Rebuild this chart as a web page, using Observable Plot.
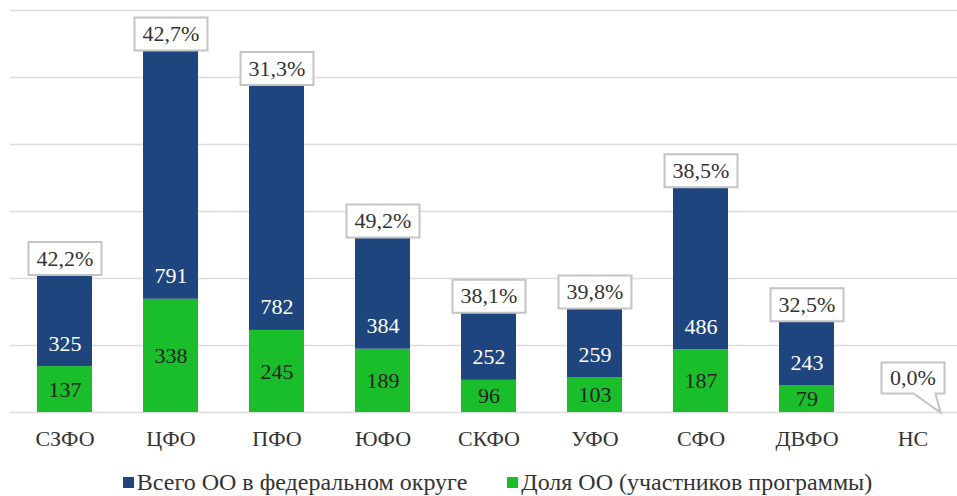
<!DOCTYPE html>
<html>
<head>
<meta charset="utf-8">
<script src="https://cdn.jsdelivr.net/npm/d3@7"></script>
<script src="https://cdn.jsdelivr.net/npm/@observablehq/plot@0.6"></script>
<style>
  html, body { margin: 0; padding: 0; background: #fff; font-family: 'Liberation Serif', serif; }
  #chart { width: 957px; }
  #chart svg, #chart svg text { font-family: 'Liberation Serif', serif !important; }
  .legend { display: flex; justify-content: center; align-items: center; height: 32px; line-height: 28px;
    font-family: 'Liberation Serif', serif; font-size: 24px; color: #333; padding-left: 38px; }
  .legend .item { display: flex; align-items: center; margin: 0 20px; }
  .legend .sw { width: 11px; height: 11px; margin-right: 3px; display: inline-block; }
</style>
</head>
<body>
<div id="chart"></div>
<script>
const categories = ["СЗФО", "ЦФО", "ПФО", "ЮФО", "СКФО", "УФО", "СФО", "ДВФО", "НС"];
// printed values
const participants = [137, 338, 245, 189, 96, 103, 187, 79, 0];   // Доля ОО (участников программы)
const totals = [325, 791, 782, 384, 252, 259, 486, 243, 0];       // Всего ОО в федеральном округе
const shareLabels = ["42,2%", "42,7%", "31,3%", "49,2%", "38,1%", "39,8%", "38,5%", "32,5%", "0,0%"];
// heights of the blue segments as drawn in the picture (read against the gridlines)
const blueSegmentsAsDrawn = [272, 741, 731, 332, 200, 206, 484, 192, 0];
const yTicks = [0, 200, 400, 600, 800, 1000, 1200];

const seriesBlue = "Всего ОО в федеральном округе";
const seriesGreen = "Доля ОО (участников программы)";
const colorBlue = "#1F457E";
const colorGreen = "#1ABE2B";

const rows = [];
categories.forEach((c, i) => {
  rows.push({cat: c, series: seriesGreen, value: participants[i], order: 0});
  rows.push({cat: c, series: seriesBlue, value: blueSegmentsAsDrawn[i], order: 1});
});
const cats = categories.map((c, i) => ({cat: c, green: participants[i], blue: totals[i],
  top: participants[i] + blueSegmentsAsDrawn[i], label: shareLabels[i]}));
const barsCats = cats.filter(d => d.top > 0);
const emptyCats = cats.filter(d => d.top === 0);

function boxSymbol(w, h) {
  return {draw(ctx) {
    ctx.moveTo(-w/2, -h/2); ctx.lineTo(w/2, -h/2); ctx.lineTo(w/2, h/2);
    ctx.lineTo(-w/2, h/2); ctx.closePath();
  }};
}
function calloutSymbol(w, h) {
  return {draw(ctx) {
    ctx.moveTo(-w/2, -h/2); ctx.lineTo(w/2, -h/2); ctx.lineTo(w/2, h/2);
    ctx.lineTo(22.5, h/2); ctx.lineTo(27.5, h/2 + 19); ctx.lineTo(0.5, h/2);
    ctx.lineTo(-w/2, h/2); ctx.closePath();
  }};
}

const font = "Liberation Serif";

const plot = Plot.plot({
  width: 957,
  height: 466,
  marginTop: 10,
  marginBottom: 54,
  marginLeft: 10,
  marginRight: 0,
  style: {fontFamily: font, background: "#fff"},
  x: {domain: categories, range: [10, 968], paddingInner: 0.48, paddingOuter: 0.24, label: null},
  y: {domain: [0, 1200], axis: null},
  marks: [
    Plot.ruleY(yTicks, {stroke: "#dcdcdc", strokeWidth: 1.5}),
    Plot.barY(rows, Plot.stackY({
      x: "cat", y: "value", order: "order",
      fill: d => d.series === seriesBlue ? colorBlue : colorGreen
    })),
    Plot.axisX({tickSize: 0, tickPadding: 18, fontSize: 22, fill: "#333", fontFamily: font}),
    Plot.text(barsCats, {x: "cat", y: d => d.green / 2, text: d => String(d.green),
      fill: "#222", fontSize: 22, fontFamily: font}),
    Plot.text(barsCats, {x: "cat", y: "green", text: d => String(d.blue), dy: -23,
      fill: "#fff", fontSize: 22, fontFamily: font}),
    Plot.dot(barsCats, {x: "cat", y: "top", dy: -17, symbol: boxSymbol(73, 33), r: 10,
      fill: "#fff", stroke: "#c4c4c4", strokeWidth: 2}),
    Plot.text(barsCats, {x: "cat", y: "top", dy: -17, text: "label",
      fill: "#333", fontSize: 22, fontFamily: font}),
    Plot.dot(emptyCats, {x: "cat", y: "top", dy: -34.5, symbol: calloutSymbol(63, 31), r: 10,
      fill: "#fff", stroke: "#c4c4c4", strokeWidth: 2}),
    Plot.text(emptyCats, {x: "cat", y: "top", dy: -34.5, text: "label",
      fill: "#333", fontSize: 22, fontFamily: font})
  ]
});
document.getElementById("chart").appendChild(plot);

const legend = document.createElement("div");
legend.className = "legend";
[[seriesBlue, colorBlue], [seriesGreen, colorGreen]].forEach(([name, col]) => {
  const it = document.createElement("span");
  it.className = "item";
  const sw = document.createElement("span");
  sw.className = "sw"; sw.style.background = col;
  it.appendChild(sw);
  it.appendChild(document.createTextNode(name));
  legend.appendChild(it);
});
document.getElementById("chart").appendChild(legend);
</script>
</body>
</html>
